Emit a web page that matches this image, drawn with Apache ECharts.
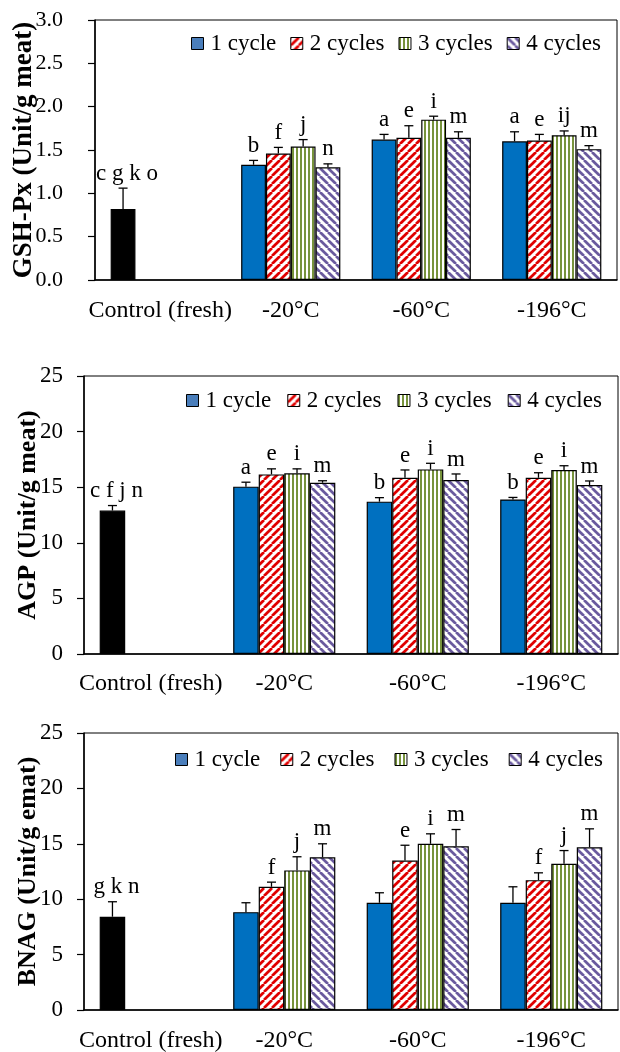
<!DOCTYPE html>
<html>
<head>
<meta charset="utf-8">
<script src="https://cdn.jsdelivr.net/npm/echarts@6/dist/echarts.min.js"></script>
<style>
html,body{margin:0;padding:0;background:#fff;}
#chart{width:620px;height:1052px;}
</style>
</head>
<body>
<div id="chart"></div>
<script>
// ---------- data ----------
const categories = ['Control (fresh)', '-20°C', '-60°C', '-196°C'];
const seriesNames = ['1 cycle', '2 cycles', '3 cycles', '4 cycles'];

// GSH-Px
const gsh1 = [0.82, 1.33, 1.62, 1.60];
const gsh2 = [null, 1.46, 1.64, 1.61];
const gsh3 = [null, 1.54, 1.85, 1.67];
const gsh4 = [null, 1.30, 1.64, 1.51];
const gsh1Err = [0.24, 0.05, 0.06, 0.11];
const gsh2Err = [null, 0.07, 0.14, 0.07];
const gsh3Err = [null, 0.08, 0.04, 0.05];
const gsh4Err = [null, 0.04, 0.07, 0.04];
const gsh1Lab = ['c g k o', 'b', 'a', 'a'];
const gsh2Lab = ['', 'f', 'e', 'e'];
const gsh3Lab = ['', 'j', 'i', 'ij'];
const gsh4Lab = ['', 'n', 'm', 'm'];
const gshTicks = [0, 3, 0.5];

// AGP
const agp1 = [12.9, 15.05, 13.7, 13.9];
const agp2 = [null, 16.15, 15.85, 15.85];
const agp3 = [null, 16.25, 16.6, 16.55];
const agp4 = [null, 15.4, 15.65, 15.2];
const agp1Err = [0.45, 0.4, 0.36, 0.18];
const agp2Err = [null, 0.5, 0.7, 0.45];
const agp3Err = [null, 0.4, 0.55, 0.38];
const agp4Err = [null, 0.18, 0.54, 0.36];
const agp1Lab = ['c f j n', 'a', 'b', 'b'];
const agp2Lab = ['', 'e', 'e', 'e'];
const agp3Lab = ['', 'i', 'i', 'i'];
const agp4Lab = ['', 'm', 'm', 'm'];
const agpTicks = [0, 25, 5];

// BNAG
const bnag1 = [8.42, 8.83, 9.68, 9.68];
const bnag2 = [null, 11.12, 13.49, 11.72];
const bnag3 = [null, 12.6, 15.0, 13.19];
const bnag4 = [null, 13.79, 14.78, 14.69];
const bnag1Err = [1.35, 0.85, 0.9, 1.44];
const bnag2Err = [null, 0.42, 1.38, 0.66];
const bnag3Err = [null, 1.23, 0.9, 1.2];
const bnag4Err = [null, 1.21, 1.51, 1.66];
const bnag1Lab = ['g k n', '', '', ''];
const bnag2Lab = ['', 'f', 'e', 'f'];
const bnag3Lab = ['', 'j', 'i', 'j'];
const bnag4Lab = ['', 'm', 'm', 'm'];
const bnagTicks = [0, 25, 5];

const yTitles = ['GSH-Px (Unit/g meat)', 'AGP (Unit/g meat)', 'BNAG (Unit/g emat)'];

// ---------- styles ----------
const FONT = "'Liberation Serif','Times New Roman',serif";

function makePattern(kind) {
  const c = document.createElement('canvas');
  const g = c.getContext('2d');
  if (kind === 'v') {
    c.width = 4; c.height = 4;
    g.fillStyle = '#fff'; g.fillRect(0, 0, 4, 4);
    g.fillStyle = '#77933c'; g.fillRect(0, 0, 2, 4);
    return c;
  }
  const s = 8;
  c.width = s; c.height = s;
  g.fillStyle = '#fff'; g.fillRect(0, 0, s, s);
  g.strokeStyle = kind === 'r' ? '#e00000' : '#6a5a9e';
  g.lineWidth = 2.7;
  for (let x0 = -s; x0 <= s; x0 += s) {
    g.beginPath();
    if (kind === 'r') { g.moveTo(x0, s); g.lineTo(x0 + s, 0); }
    else { g.moveTo(x0, 0); g.lineTo(x0 + s, s); }
    g.stroke();
  }
  return c;
}
const fills = [
  '#0070c0',
  { image: makePattern('r'), repeat: 'repeat' },
  { image: makePattern('v'), repeat: 'repeat' },
  { image: makePattern('p'), repeat: 'repeat' }
];

const grids = [
  { left: 95, top: 20, width: 522, height: 260 },
  { left: 84, top: 376, width: 534, height: 278 },
  { left: 84, top: 733, width: 534, height: 277 }
];
const gaps = [0.24, 0.235, 0.235];
const legendPos = [{ left: 191, top: 32 }, { left: 186, top: 389 }, { left: 175, top: 748 }];
const legendGaps = [14, 16, 20];
const catMargins = [19, 18, 19];
const yMargins = [32, 21, 21];
const nameGaps = [57, 43, 43];
const nameFont = [27, 26, 26];
const tickFont = [22, 23, 23];

const charts = [
  { vals: [gsh1, gsh2, gsh3, gsh4], errs: [gsh1Err, gsh2Err, gsh3Err, gsh4Err], labs: [gsh1Lab, gsh2Lab, gsh3Lab, gsh4Lab], ticks: gshTicks, dec: 1 },
  { vals: [agp1, agp2, agp3, agp4], errs: [agp1Err, agp2Err, agp3Err, agp4Err], labs: [agp1Lab, agp2Lab, agp3Lab, agp4Lab], ticks: agpTicks, dec: 0 },
  { vals: [bnag1, bnag2, bnag3, bnag4], errs: [bnag1Err, bnag2Err, bnag3Err, bnag4Err], labs: [bnag1Lab, bnag2Lab, bnag3Lab, bnag4Lab], ticks: bnagTicks, dec: 0 }
];

const option = {
  backgroundColor: '#fff',
  animation: false,
  grid: grids.map(g => Object.assign({ show: true, borderColor: '#000', borderWidth: 1, backgroundColor: 'transparent',
    containLabel: false, outerBoundsMode: 'none' }, g)),
  xAxis: [], yAxis: [], series: [], legend: []
};

charts.forEach((ch, gi) => {
  option.xAxis.push({
    type: 'category', gridIndex: gi, data: categories,
    axisLine: { lineStyle: { color: '#000', width: 1.5 } },
    axisTick: { show: false },
    axisLabel: { color: '#000', fontFamily: FONT, fontSize: 24, margin: catMargins[gi], interval: 0 },
    splitLine: { show: false }
  });
  option.yAxis.push({
    type: 'value', gridIndex: gi, min: ch.ticks[0], max: ch.ticks[1], interval: ch.ticks[2],
    name: yTitles[gi], nameLocation: 'middle', nameGap: nameGaps[gi], nameRotate: 90,
    nameMoveOverlap: false,
    nameTextStyle: { color: '#000', fontFamily: FONT, fontWeight: 'bold', fontSize: nameFont[gi] },
    axisLine: { show: true, lineStyle: { color: '#000', width: 1.5 } },
    axisTick: { show: true, length: 7, lineStyle: { color: '#000', width: 1.2 } },
    axisLabel: { color: '#000', fontFamily: FONT, fontSize: tickFont[gi], margin: yMargins[gi],
      formatter: v => v.toFixed(ch.dec) },
    splitLine: { show: false }
  });
  ch.vals.forEach((arr, si) => {
    option.series.push({
      type: 'bar', name: seriesNames[si], xAxisIndex: gi, yAxisIndex: gi,
      barGap: '0%', barCategoryGap: (gaps[gi] * 100) + '%',
      itemStyle: { color: fills[si], borderColor: '#000', borderWidth: 1.2 },
      data: arr.map((v, ci) => (si === 0 && ci === 0) ? { value: v, itemStyle: { color: '#000' } } : v),
      z: 2
    });
  });
  // error bars + significance letters
  const edata = [];
  ch.vals.forEach((arr, si) => {
    arr.forEach((v, ci) => {
      if (v == null) return;
      edata.push([ci, si, v, v + ch.errs[si][ci], ch.labs[si][ci]]);
    });
  });
  const gap = gaps[gi];
  option.series.push({
    type: 'custom', xAxisIndex: gi, yAxisIndex: gi, z: 5,
    encode: { x: 0, y: 3 },
    data: edata,
    renderItem: function (params, api) {
      const ci = api.value(0), si = api.value(1);
      const v = api.value(2), top = api.value(3);
      const lab = edata[params.dataIndex][4];
      const band = api.size([1, 0])[0];
      const bw = band * (1 - gap) / 4;
      const cx = api.coord([ci, 0])[0] + (si - 1.5) * bw;
      const yv = api.coord([ci, v])[1];
      const yt = api.coord([ci, top])[1];
      const children = [
        { type: 'line', shape: { x1: cx, y1: yv, x2: cx, y2: yt }, style: { stroke: '#000', lineWidth: 1.3 } },
        { type: 'line', shape: { x1: cx - 4.5, y1: yt, x2: cx + 4.5, y2: yt }, style: { stroke: '#000', lineWidth: 1.3 } }
      ];
      if (lab) {
        children.push({ type: 'text', x: cx + (ci === 0 ? 4 : 0), y: yt - 3,
          style: { text: lab, fill: '#000', font: '23px ' + FONT, align: 'center', verticalAlign: 'bottom' } });
      }
      return { type: 'group', children: children };
    }
  });
  option.legend.push(Object.assign({
    orient: 'horizontal', itemWidth: 12, itemHeight: 12, itemGap: legendGaps[gi], padding: 0,
    icon: 'rect',
    textStyle: { color: '#000', fontFamily: FONT, fontSize: 23, padding: [0, 0, 0, 2] },
    itemStyle: { borderColor: '#000', borderWidth: 1 },
    data: seriesNames.map((n, i) => i === 0 ? { name: n, itemStyle: { color: '#4a7ebb' } } : { name: n }),
    selectedMode: false
  }, legendPos[gi]));
});

const chart = echarts.init(document.getElementById('chart'), null, { renderer: 'canvas' });
chart.setOption(option);
</script>
</body>
</html>
